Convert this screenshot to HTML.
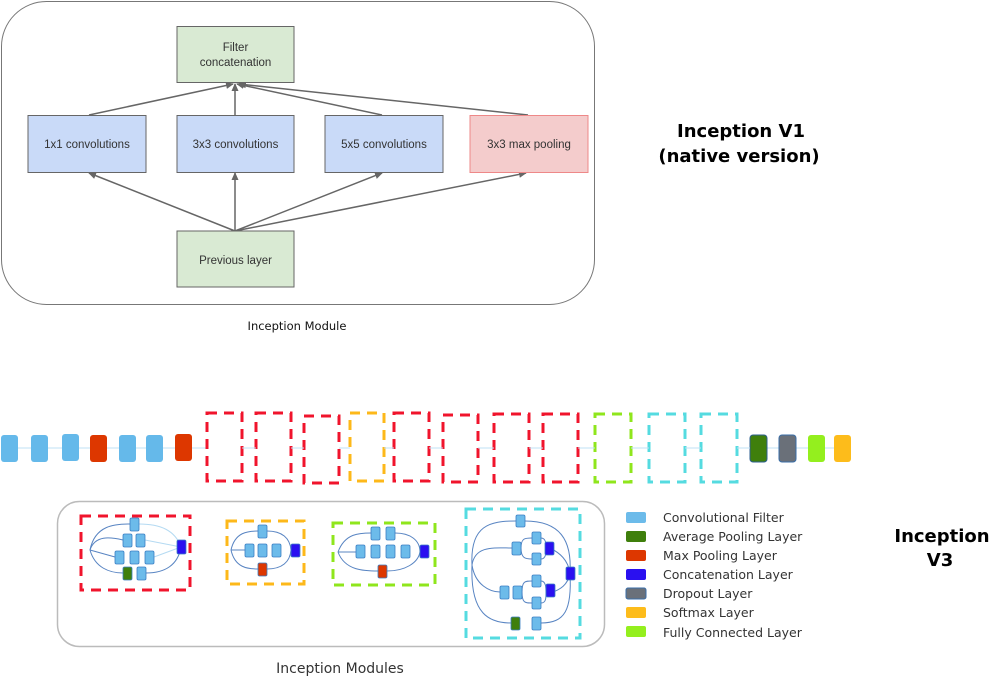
<!DOCTYPE html>
<html><head><meta charset="utf-8"><style>
html,body{margin:0;padding:0;background:#fff;}
svg{display:block;}
</style></head><body>
<svg width="1004" height="679" viewBox="0 0 1004 679" xmlns="http://www.w3.org/2000/svg">
<defs>
<marker id="ah" markerWidth="8" markerHeight="8" refX="7" refY="4" orient="auto" markerUnits="userSpaceOnUse">
<path d="M0,0.5 L8,4 L0,7.5 Z" fill="#666"/></marker>
</defs>
<!-- Top V1 -->
<rect x="1.5" y="1.5" width="593" height="303" rx="45" fill="#fff" stroke="#777" stroke-width="1"/>
<g stroke="#666" stroke-width="1.5" fill="none" marker-end="url(#ah)">
<line x1="235" y1="231" x2="89" y2="173"/>
<line x1="235" y1="231" x2="235" y2="173"/>
<line x1="235" y1="231" x2="382" y2="173"/>
<line x1="235" y1="231" x2="526" y2="173"/>
<line x1="89" y1="115" x2="233" y2="84"/>
<line x1="235" y1="115" x2="235" y2="84"/>
<line x1="382" y1="115" x2="237" y2="84"/>
<line x1="528" y1="115" x2="239" y2="84"/>
</g>
<g font-family="Liberation Sans, Arial, sans-serif" font-size="11.5" fill="#333" text-anchor="middle">
<rect x="177" y="26.5" width="117" height="56" fill="#d9ead3" stroke="#666"/>
<text x="235.5" y="51">Filter</text><text x="235.5" y="66">concatenation</text>
<rect x="28" y="115.5" width="118" height="57" fill="#c9daf8" stroke="#666"/>
<text x="87" y="148">1x1 convolutions</text>
<rect x="177" y="115.5" width="117" height="57" fill="#c9daf8" stroke="#666"/>
<text x="235.5" y="148">3x3 convolutions</text>
<rect x="325" y="115.5" width="118" height="57" fill="#c9daf8" stroke="#666"/>
<text x="384" y="148">5x5 convolutions</text>
<rect x="470" y="115.5" width="118" height="57" fill="#f4cccc" stroke="#e88"/>
<text x="529" y="148">3x3 max pooling</text>
<rect x="177" y="231" width="117" height="56" fill="#d9ead3" stroke="#666"/>
<text x="235.5" y="264">Previous layer</text>
</g>
<text x="297" y="330" font-family="DejaVu Sans, sans-serif" font-size="11.5" fill="#111" text-anchor="middle">Inception Module</text>
<g font-family="DejaVu Sans, sans-serif" font-weight="bold" font-size="18" fill="#000" text-anchor="middle">
<text x="741" y="137">Inception V1</text>
<text x="739" y="162">(native version)</text>
<text x="942" y="542">Inception</text>
<text x="940" y="566">V3</text>
</g>
<!-- V3 chain -->
<line x1="5" y1="448" x2="850" y2="448" stroke="#bfe0f5" stroke-width="1"/>
<g stroke="none">
<rect x="1" y="435" width="17" height="27" rx="3" fill="#65b9ea"/>
<rect x="31" y="435" width="17" height="27" rx="3" fill="#65b9ea"/>
<rect x="62" y="434" width="17" height="27" rx="3" fill="#65b9ea"/>
<rect x="90" y="435" width="17" height="27" rx="3" fill="#dd3700"/>
<rect x="119" y="435" width="17" height="27" rx="3" fill="#65b9ea"/>
<rect x="146" y="435" width="17" height="27" rx="3" fill="#65b9ea"/>
<rect x="175" y="434" width="17" height="27" rx="3" fill="#dd3700"/>
<rect x="750" y="435" width="17" height="27" rx="3" fill="#3f7f0c" stroke="#2c5f90"/>
<rect x="779" y="435" width="17" height="27" rx="3" fill="#6a7079" stroke="#3a6ea8"/>
<rect x="808" y="435" width="17" height="27" rx="3" fill="#94ef1e"/>
<rect x="834" y="435" width="17" height="27" rx="3" fill="#fdbc1b"/>
</g>
<g fill="#fff" stroke-width="3" stroke-dasharray="10,7">
<rect x="207" y="413" width="35" height="68" stroke="#f0142c"/>
<rect x="256" y="413" width="35" height="68" stroke="#f0142c"/>
<rect x="304" y="416" width="35" height="67" stroke="#f0142c"/>
<rect x="350" y="413" width="34" height="68" stroke="#fdb81a"/>
<rect x="394" y="413" width="35" height="68" stroke="#f0142c"/>
<rect x="443" y="415" width="35" height="67" stroke="#f0142c"/>
<rect x="494" y="414" width="35" height="68" stroke="#f0142c"/>
<rect x="543" y="414" width="35" height="68" stroke="#f0142c"/>
<rect x="595" y="414" width="36" height="68" stroke="#8fe61c"/>
<rect x="649" y="414" width="36" height="68" stroke="#55dbe0"/>
<rect x="701" y="414" width="36" height="68" stroke="#55dbe0"/>
</g>
<g stroke="#bfe0f5" stroke-width="1">
<line x1="242" y1="448" x2="256" y2="448"/><line x1="291" y1="448" x2="304" y2="448"/>
<line x1="339" y1="448" x2="350" y2="448"/><line x1="384" y1="448" x2="394" y2="448"/>
<line x1="429" y1="448" x2="443" y2="448"/><line x1="478" y1="448" x2="494" y2="448"/>
<line x1="529" y1="448" x2="543" y2="448"/><line x1="578" y1="448" x2="595" y2="448"/>
<line x1="631" y1="448" x2="649" y2="448"/><line x1="685" y1="448" x2="701" y2="448"/>
<line x1="737" y1="448" x2="750" y2="448"/>
</g>
<!-- Modules box -->
<rect x="57.5" y="501.5" width="547" height="145" rx="22" fill="#fff" stroke="#bbb" stroke-width="1.5"/>
<g fill="none" stroke-width="3" stroke-dasharray="10,7">
<rect x="81" y="516" width="109" height="74" stroke="#f0142c"/>
<rect x="227" y="521" width="77" height="63" stroke="#fdb81a"/>
<rect x="333" y="523" width="102" height="62" stroke="#8fe61c"/>
<rect x="466" y="509" width="114" height="129" stroke="#55dbe0"/>
</g>
<!-- module internals: curves -->
<g fill="none" stroke="#3b6fb8" stroke-width="1" opacity="0.85">
<!-- red -->
<path d="M90,550 C95,525 115,524 130,524"/><path d="M90,550 C95,535 110,537 123,540"/>
<path d="M90,550 L115,557"/><path d="M90,550 C95,568 110,573 123,573"/>
<path d="M139,524 C160,524 175,530 181,547" stroke="#a8d4f0"/><path d="M145,540 L181,547" stroke="#a8d4f0"/>
<path d="M154,557 L181,547" stroke="#a8d4f0"/><path d="M146,573 C165,573 178,565 181,547"/>
<!-- yellow -->
<path d="M231,550 C235,532 248,531 258,531"/><path d="M231,550 L245,550"/>
<path d="M231,550 C235,568 248,569 258,569"/><path d="M267,531 C282,531 290,538 291,550"/>
<path d="M267,569 C282,569 290,562 291,550"/>
<!-- green -->
<path d="M338,552 C345,533 360,533 371,533"/><path d="M338,552 L356,552"/>
<path d="M338,552 C345,571 365,571 378,571"/><path d="M395,533 C410,533 420,540 420,552"/>
<path d="M387,571 C405,571 418,563 420,552"/>
<!-- cyan -->
<path d="M472,565 C470,525 490,521 516,521"/><path d="M525,521 C560,521 572,540 570,573"/>
<path d="M472,565 C475,545 495,548 512,548"/><path d="M472,565 C475,585 490,592 500,592"/>
<path d="M472,565 C470,615 490,623 511,623"/><path d="M541,623 C565,623 572,610 570,573"/>
<path d="M550,548 C560,553 568,560 570,573"/><path d="M550,593 C560,590 568,585 570,573"/>
<path d="M521,548 C521,538 525,538 532,538"/><path d="M521,548 C521,558 525,559 532,559"/>
<path d="M541,538 C546,538 546,544 546,548"/><path d="M541,559 C546,559 546,553 546,548"/>
<path d="M522,592 C522,581 525,581 532,581"/><path d="M522,592 C522,603 525,603 532,603"/>
<path d="M541,581 C546,581 546,588 546,593"/><path d="M541,603 C546,603 546,598 546,593"/>
</g>
<g stroke="#3b7fc4" stroke-width="0.8">
<!-- red module -->
<g fill="#6cbbea"><rect x="130" y="518" width="9" height="13" rx="1.5"/>
<rect x="123" y="534" width="9" height="13" rx="1.5"/><rect x="136" y="534" width="9" height="13" rx="1.5"/>
<rect x="115" y="551" width="9" height="13" rx="1.5"/><rect x="130" y="551" width="9" height="13" rx="1.5"/><rect x="145" y="551" width="9" height="13" rx="1.5"/>
<rect x="137" y="567" width="9" height="13" rx="1.5"/></g>
<rect x="123" y="567" width="9" height="13" rx="1.5" fill="#3f7f0c"/>
<rect x="177" y="540" width="9" height="14" rx="1.5" fill="#2a10f0"/>
<!-- yellow -->
<g fill="#6cbbea"><rect x="258" y="525" width="9" height="13" rx="1.5"/>
<rect x="245" y="544" width="9" height="13" rx="1.5"/><rect x="258" y="544" width="9" height="13" rx="1.5"/><rect x="272" y="544" width="9" height="13" rx="1.5"/></g>
<rect x="291" y="544" width="9" height="13" rx="1.5" fill="#2a10f0"/>
<rect x="258" y="563" width="9" height="13" rx="1.5" fill="#dd3700"/>
<!-- green -->
<g fill="#6cbbea"><rect x="371" y="527" width="9" height="13" rx="1.5"/><rect x="386" y="527" width="9" height="13" rx="1.5"/>
<rect x="356" y="545" width="9" height="13" rx="1.5"/><rect x="371" y="545" width="9" height="13" rx="1.5"/><rect x="386" y="545" width="9" height="13" rx="1.5"/><rect x="401" y="545" width="9" height="13" rx="1.5"/></g>
<rect x="420" y="545" width="9" height="13" rx="1.5" fill="#2a10f0"/>
<rect x="378" y="565" width="9" height="13" rx="1.5" fill="#dd3700"/>
<!-- cyan -->
<g fill="#6cbbea"><rect x="516" y="515" width="9" height="12" rx="1.5"/>
<rect x="512" y="542" width="9" height="13" rx="1.5"/><rect x="532" y="532" width="9" height="12" rx="1.5"/><rect x="532" y="553" width="9" height="12" rx="1.5"/>
<rect x="500" y="586" width="9" height="13" rx="1.5"/><rect x="513" y="586" width="9" height="13" rx="1.5"/>
<rect x="532" y="575" width="9" height="12" rx="1.5"/><rect x="532" y="597" width="9" height="12" rx="1.5"/>
<rect x="532" y="617" width="9" height="13" rx="1.5"/></g>
<rect x="545" y="542" width="9" height="13" rx="1.5" fill="#2a10f0"/>
<rect x="546" y="584" width="9" height="13" rx="1.5" fill="#2a10f0"/>
<rect x="566" y="567" width="9" height="13" rx="1.5" fill="#2a10f0"/>
<rect x="511" y="617" width="9" height="13" rx="1.5" fill="#3f7f0c"/>
</g>
<!-- legend -->
<g>
<rect x="626" y="512" width="20" height="11" rx="2" fill="#6cbbea"/>
<rect x="626" y="531" width="20" height="11" rx="2" fill="#3f7f0c"/>
<rect x="626" y="550" width="20" height="11" rx="2" fill="#dd3700"/>
<rect x="626" y="569" width="20" height="11" rx="2" fill="#2a10f0"/>
<rect x="626" y="588" width="20" height="11" rx="2" fill="#6a7079" stroke="#3a6ea8"/>
<rect x="626" y="607" width="20" height="11" rx="2" fill="#fdbc1b"/>
<rect x="626" y="626" width="20" height="11" rx="2" fill="#94ef1e"/>
</g>
<g font-family="DejaVu Sans, sans-serif" font-size="12.5" fill="#333">
<text x="663" y="522">Convolutional Filter</text>
<text x="663" y="541">Average Pooling Layer</text>
<text x="663" y="560">Max Pooling Layer</text>
<text x="663" y="579">Concatenation Layer</text>
<text x="663" y="598">Dropout Layer</text>
<text x="663" y="617">Softmax Layer</text>
<text x="663" y="637">Fully Connected Layer</text>
</g>
<text x="340" y="673" font-family="DejaVu Sans, sans-serif" font-size="14" fill="#333" text-anchor="middle">Inception Modules</text>
</svg>
</body></html>
